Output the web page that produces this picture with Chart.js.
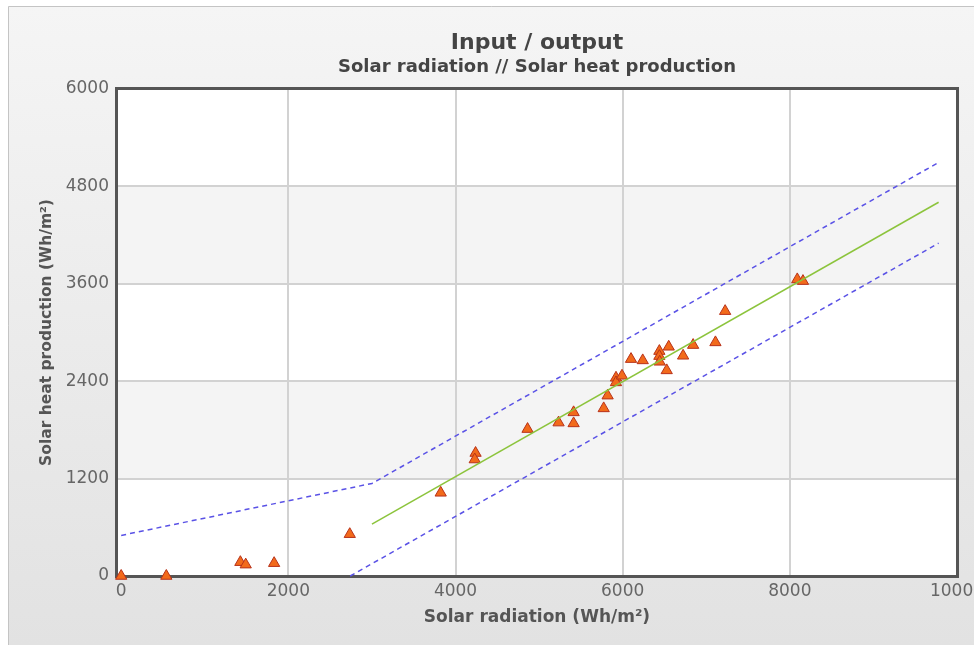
<!DOCTYPE html>
<html>
<head>
<meta charset="utf-8">
<script src="https://cdn.jsdelivr.net/npm/chart.js@4.4.1/dist/chart.umd.min.js"></script>
<style>
html,body{margin:0;padding:0;background:#fff;}
#wrap{position:absolute;left:0;top:0;width:974px;height:645px;}
</style>
</head>
<body>
<div id="wrap"><canvas id="c" width="974" height="645"></canvas></div>
<script>
// Measured points
const radiation = [0, 540, 1426, 1490, 1830, 2735, 3823, 4240, 4230, 4862, 5233, 5413, 5413, 5773, 5820, 5920, 5920, 5992, 6100, 6240, 6439, 6439, 6443, 6551, 6527, 6723, 6843, 7110, 7226, 8089, 8157];
const production = [0, 0, 170, 140, 158, 515, 1025, 1515, 1435, 1810, 1890, 2016, 1880, 2065, 2222, 2442, 2385, 2467, 2672, 2656, 2771, 2709, 2639, 2824, 2533, 2713, 2845, 2878, 3263, 3654, 3633];
// Regression line and band
const fitX = [3000, 9780];
const fitY = [640, 4605];
const upperX = [0, 3000, 9780];
const upperY = [500, 1140, 5095];
const lowerX = [2740, 9780];
const lowerY = [0, 4100];
// Ticks
const xTicks = [0, 2000, 4000, 6000, 8000, 10000];
const yTicks = [0, 1200, 2400, 3600, 4800, 6000];
const bandPairs = [[1200, 2400], [3600, 4800]];

const zip = (xs, ys) => xs.map((x, i) => ({x: x, y: ys[i]}));

const bgPlugin = {
  id: 'bg',
  beforeDraw(chart) {
    const ctx = chart.ctx;
    ctx.save();
    ctx.fillStyle = '#ffffff';
    ctx.fillRect(0, 0, chart.width, chart.height);
    const g = ctx.createLinearGradient(0, 6, 0, chart.height);
    g.addColorStop(0, '#f5f5f5');
    g.addColorStop(1, '#e2e2e2');
    ctx.fillStyle = g;
    ctx.fillRect(8, 6, chart.width - 8, chart.height - 6);
    ctx.strokeStyle = '#c4c4c4';
    ctx.lineWidth = 1;
    ctx.beginPath();
    ctx.moveTo(8.5, chart.height);
    ctx.lineTo(8.5, 6.5);
    ctx.lineTo(chart.width, 6.5);
    ctx.stroke();
    const a = chart.chartArea;
    ctx.fillStyle = '#ffffff';
    ctx.fillRect(a.left, a.top, a.right - a.left, a.bottom - a.top);
    const ys = chart.scales.y;
    ctx.fillStyle = '#f4f4f4';
    bandPairs.forEach(([lo, hi]) => {
      const t = ys.getPixelForValue(hi), b = ys.getPixelForValue(lo);
      ctx.fillRect(a.left, t, a.right - a.left, b - t);
    });
    ctx.restore();
  },
  beforeDatasetsDraw(chart) {
    const ctx = chart.ctx, a = chart.chartArea;
    ctx.save();
    ctx.strokeStyle = '#555555';
    ctx.lineWidth = 3;
    ctx.strokeRect(a.left - 0.5, a.top - 0.5, a.right - a.left + 1, a.bottom - a.top + 1);
    ctx.restore();
  }
};

const dashColor = '#5a52e6';

new Chart(document.getElementById('c'), {
  type: 'scatter',
  data: {
    datasets: [
      {
        label: 'Upper',
        data: zip(upperX, upperY),
        showLine: true,
        borderColor: dashColor,
        borderWidth: 1.5,
        borderDash: [5, 4],
        pointRadius: 0,
        fill: false
      },
      {
        label: 'Lower',
        data: zip(lowerX, lowerY),
        showLine: true,
        borderColor: dashColor,
        borderWidth: 1.5,
        borderDash: [5, 4],
        pointRadius: 0,
        fill: false
      },
      {
        label: 'Fit',
        data: zip(fitX, fitY),
        showLine: true,
        borderColor: '#8cc43c',
        borderWidth: 1.5,
        pointRadius: 0,
        fill: false
      },
      {
        label: 'Data',
        data: zip(radiation, production),
        pointStyle: 'triangle',
        pointRadius: 6.5,
        backgroundColor: '#f26a1b',
        borderColor: '#b8321a',
        borderWidth: 1
      }
    ]
  },
  options: {
    responsive: false,
    animation: false,
    clip: false,
    layout: {padding: {left: 0, right: 17, top: 0, bottom: 0}},
    plugins: {
      legend: {display: false},
      tooltip: {enabled: false},
      title: {
        display: true,
        text: 'Input / output',
        fullSize: false,
        color: '#444444',
        font: {family: 'DejaVu Sans', weight: 'bold', size: 22},
        padding: {top: 30, bottom: 0}
      },
      subtitle: {
        display: true,
        text: 'Solar radiation // Solar heat production',
        fullSize: false,
        color: '#444444',
        font: {family: 'DejaVu Sans', weight: 'bold', size: 18},
        padding: {top: 0, bottom: 11}
      }
    },
    scales: {
      x: {
        type: 'linear',
        min: -50,
        max: 10000,
        afterBuildTicks: (s) => { s.ticks = xTicks.map(v => ({value: v})); },
        afterFit: (s) => { s.height = 69; s.paddingLeft = 0; s.paddingRight = 0; },
        border: {display: false},
        grid: {
          color: (c) => (c.tick && (c.tick.value === 0 || c.tick.value === 10000)) ? 'rgba(0,0,0,0)' : '#d2d2d2',
          lineWidth: 2,
          drawTicks: false
        },
        ticks: {
          color: '#666666',
          font: {family: 'DejaVu Sans', size: 17},
          padding: 5,
          maxRotation: 0,
          autoSkip: false,
          callback: (v) => String(v)
        },
        title: {
          display: true,
          text: 'Solar radiation (Wh/m²)',
          color: '#555555',
          font: {family: 'DejaVu Sans', weight: 'bold', size: 17},
          padding: {top: 4, bottom: 17}
        }
      },
      y: {
        type: 'linear',
        min: 0,
        max: 6000,
        afterBuildTicks: (s) => { s.ticks = yTicks.map(v => ({value: v})); },
        afterFit: (s) => { s.width = 117; s.paddingTop = 0; s.paddingBottom = 0; },
        border: {display: false},
        grid: {
          color: (c) => (c.tick && (c.tick.value === 0 || c.tick.value === 6000)) ? 'rgba(0,0,0,0)' : '#d2d2d2',
          lineWidth: 2,
          drawTicks: false
        },
        ticks: {
          color: '#666666',
          font: {family: 'DejaVu Sans', size: 17},
          padding: 8,
          autoSkip: false,
          callback: (v) => String(v)
        },
        title: {
          display: true,
          text: 'Solar heat production (Wh/m²)',
          color: '#555555',
          font: {family: 'DejaVu Sans', weight: 'bold', size: 15.5},
          padding: {top: 38, bottom: 4}
        }
      }
    }
  },
  plugins: [bgPlugin]
});
</script>
</body>
</html>
